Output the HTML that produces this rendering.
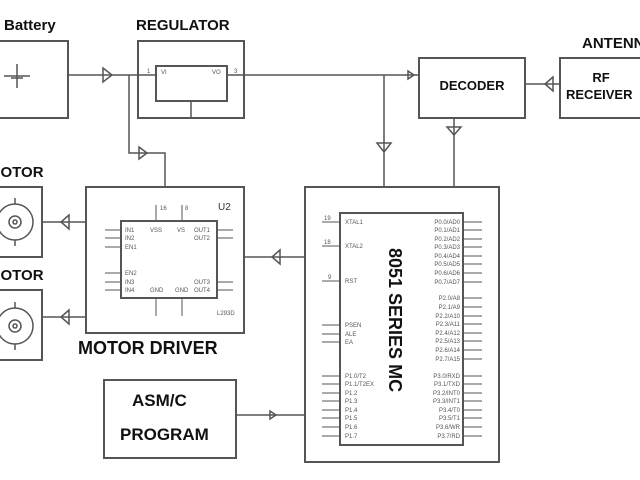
<!DOCTYPE html>
<html><head><style>
html,body{margin:0;padding:0;background:#fff;}
svg{display:block;}
.b{font-family:"Liberation Sans",sans-serif;font-weight:bold;fill:#111;}
.s{font-family:"Liberation Sans",sans-serif;fill:#555;font-size:6px;}
</style></head><body>
<svg width="640" height="480" viewBox="0 0 640 480" xmlns="http://www.w3.org/2000/svg">
<rect width="640" height="480" fill="#fff"/>
<g fill="none" stroke="#555" stroke-width="2">
<!-- Battery -->
<rect x="-5" y="41" width="73" height="77"/>
<!-- Regulator -->
<rect x="138" y="41" width="106" height="77"/>
<rect x="156" y="66" width="71" height="35"/>
<!-- Decoder -->
<rect x="419" y="58" width="106" height="60"/>
<!-- RF -->
<rect x="560" y="58" width="90" height="60"/>
<!-- motor driver -->
<rect x="86" y="187" width="158" height="146"/>
<rect x="121" y="221" width="96" height="77"/>
<!-- MC -->
<rect x="305" y="187" width="194" height="275"/>
<rect x="340" y="213" width="123" height="232"/>
<!-- motors -->
<rect x="-5" y="187" width="47" height="70"/>
<rect x="-5" y="290" width="47" height="70"/>
<!-- ASM -->
<rect x="104" y="380" width="132" height="78"/>
</g>
<g fill="none" stroke="#555" stroke-width="1.5">
<!-- main lines -->
<path d="M68 75 H156 M227 75 H419"/>
<path d="M129 75 V153 H165 V187"/>
<path d="M191 101 V118"/>
<path d="M384 75 V187 M454 118 V187"/>
<path d="M525 84 H560"/>
<path d="M244 257 H305"/>
<path d="M42 222 H86 M42 317 H86"/>
<path d="M236 415 H305"/>
<!-- arrows -->
<path d="M103 68 L112 75 L103 82 Z"/>
<path d="M139 147 L147 153 L139 159 Z"/>
<path d="M408 71 L414 75 L408 79 Z"/>
<path d="M553 77 L545 84 L553 91 Z"/>
<path d="M377 143 L384 152 L391 143 Z"/>
<path d="M447 127 L454 135 L461 127 Z"/>
<path d="M280 250 L272 257 L280 264 Z"/>
<path d="M69 215 L61 222 L69 229 Z"/>
<path d="M69 310 L61 317 L69 324 Z"/>
<path d="M270 411 L276 415 L270 419 Z"/>
<!-- battery symbol -->
<path d="M4 76 H30 M17 64 V88 M11 78 H23"/>
<!-- motors -->
<circle cx="15" cy="222" r="18"/><circle cx="15" cy="222" r="6"/><circle cx="15" cy="222" r="2"/>
<path d="M15 198 V204 M15 240 V246"/>
<circle cx="15" cy="326" r="18"/><circle cx="15" cy="326" r="6"/><circle cx="15" cy="326" r="2"/>
<path d="M15 302 V308 M15 344 V350"/>
</g>
<g stroke="#555" stroke-width="1">
<!-- motor driver pins -->
<path d="M105 230H121M105 238H121M105 247H121M105 273H121M105 282H121M105 290H121"/>
<path d="M217 230H233M217 238H233M217 282H233M217 290H233"/>
<path d="M156 205V221M182 205V221M156 298V316M182 298V316"/>
<!-- MC pins left -->
<path d="M322 222H340M322 246H340M322 281H340M322 325H340M322 334H340M322 342H340"/>
<path d="M322 376H340M322 384H340M322 393H340M322 401H340M322 410H340M322 418H340M322 427H340M322 436H340"/>
<path d="M463 222H482M463 230H482M463 239H482M463 247H482M463 256H482M463 264H482M463 273H482M463 282H482"/>
<path d="M463 298H482M463 307H482M463 316H482M463 324H482M463 333H482M463 341H482M463 350H482M463 359H482"/>
<path d="M463 376H482M463 384H482M463 393H482M463 401H482M463 410H482M463 418H482M463 427H482M463 436H482"/>
</g>
<!-- labels -->
<text class="b" x="4" y="30" font-size="15">Battery</text>
<text class="b" x="136" y="30" font-size="15">REGULATOR</text>
<text class="b" x="582" y="48" font-size="15">ANTENNA</text>
<text class="b" x="472" y="90" font-size="13" text-anchor="middle">DECODER</text>
<text class="b" x="601" y="82" font-size="13" text-anchor="middle">RF</text>
<text class="b" x="566" y="99" font-size="13">RECEIVER</text>
<text class="b" x="-12" y="177" font-size="15">MOTOR</text>
<text class="b" x="-12" y="280" font-size="15">MOTOR</text>
<text class="b" x="78" y="354" font-size="18">MOTOR DRIVER</text>
<text class="b" x="132" y="406" font-size="17">ASM/C</text>
<text class="b" x="120" y="440" font-size="17">PROGRAM</text>
<text class="b" font-size="18" transform="translate(389,248) rotate(90)">8051 SERIES MC</text>
<g class="s">
<text x="161" y="74">VI</text><text x="212" y="74">VO</text><text x="147" y="73">1</text><text x="234" y="73">3</text>
<text x="218" y="210" font-size="10" fill="#333">U2</text>
<text x="125" y="232">IN1</text><text x="125" y="240">IN2</text><text x="125" y="249">EN1</text>
<text x="125" y="275">EN2</text><text x="125" y="284">IN3</text><text x="125" y="292">IN4</text>
<text x="150" y="232">VSS</text><text x="177" y="232">VS</text>
<text x="194" y="232">OUT1</text><text x="194" y="240">OUT2</text><text x="194" y="284">OUT3</text><text x="194" y="292">OUT4</text>
<text x="150" y="292">GND</text><text x="175" y="292">GND</text>
<text x="217" y="315">L293D</text><text x="160" y="210">16</text><text x="185" y="210">8</text>
<text x="345" y="224">XTAL1</text><text x="345" y="248">XTAL2</text><text x="345" y="283">RST</text>
<text x="345" y="327">PSEN</text><text x="345" y="336">ALE</text><text x="345" y="344">EA</text>
<text x="345" y="378">P1.0/T2</text><text x="345" y="386">P1.1/T2EX</text><text x="345" y="395">P1.2</text><text x="345" y="403">P1.3</text>
<text x="345" y="412">P1.4</text><text x="345" y="420">P1.5</text><text x="345" y="429">P1.6</text><text x="345" y="438">P1.7</text>
<text x="324" y="220">19</text><text x="324" y="244">18</text><text x="328" y="279">9</text>
<g text-anchor="end">
<text x="460" y="224">P0.0/AD0</text><text x="460" y="232">P0.1/AD1</text><text x="460" y="241">P0.2/AD2</text><text x="460" y="249">P0.3/AD3</text>
<text x="460" y="258">P0.4/AD4</text><text x="460" y="266">P0.5/AD5</text><text x="460" y="275">P0.6/AD6</text><text x="460" y="284">P0.7/AD7</text>
<text x="460" y="300">P2.0/A8</text><text x="460" y="309">P2.1/A9</text><text x="460" y="318">P2.2/A10</text><text x="460" y="326">P2.3/A11</text>
<text x="460" y="335">P2.4/A12</text><text x="460" y="343">P2.5/A13</text><text x="460" y="352">P2.6/A14</text><text x="460" y="361">P2.7/A15</text>
<text x="460" y="378">P3.0/RXD</text><text x="460" y="386">P3.1/TXD</text><text x="460" y="395">P3.2/INT0</text><text x="460" y="403">P3.3/INT1</text>
<text x="460" y="412">P3.4/T0</text><text x="460" y="420">P3.5/T1</text><text x="460" y="429">P3.6/WR</text><text x="460" y="438">P3.7/RD</text>
</g>
</g>
</svg>
</body></html>
